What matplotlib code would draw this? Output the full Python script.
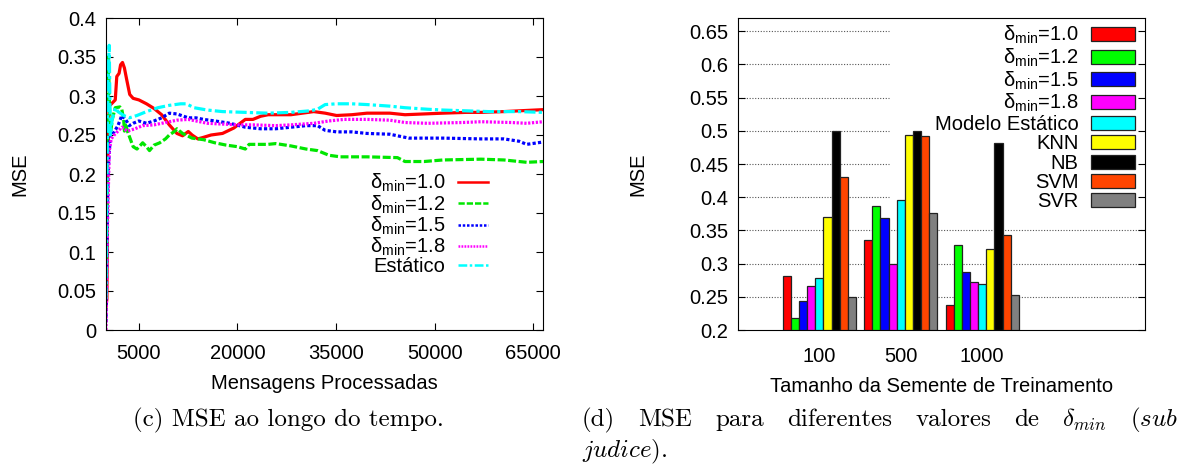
import matplotlib
matplotlib.use("Agg")
import matplotlib.pyplot as plt
from matplotlib.patches import Patch
from matplotlib.lines import Line2D

plt.rcParams['font.family'] = ['Liberation Sans', 'DejaVu Sans']
plt.rcParams['mathtext.fontset'] = 'custom'
plt.rcParams['mathtext.rm'] = 'Liberation Sans'
plt.rcParams['mathtext.it'] = 'Liberation Sans:italic'

# ---------------- left chart data ----------------
red_x = [0, 140, 250, 490, 950, 1410, 1640, 1990, 2220, 2510, 2800, 3150, 3610, 4130, 5000,
         6160, 7310, 8470, 9630, 10790, 11650, 12520, 13100, 13970, 14830, 15990, 17730,
         19460, 21200, 22360, 23520, 24670, 28140, 29880, 31620, 33350, 35090, 37400,
         39720, 43190, 45500, 48400, 51290, 54760, 57070, 60540, 62860, 66500]
red_y = [0.03, 0.04, 0.21, 0.287, 0.291, 0.295, 0.325, 0.329, 0.340, 0.343, 0.336, 0.321, 0.302,
         0.297, 0.295, 0.290, 0.284, 0.276, 0.263, 0.252, 0.249, 0.2545, 0.250, 0.245, 0.247,
         0.250, 0.252, 0.259, 0.270, 0.270, 0.274, 0.276, 0.276, 0.278, 0.280, 0.278, 0.275,
         0.276, 0.278, 0.278, 0.276, 0.277, 0.278, 0.279, 0.279, 0.280, 0.281, 0.2825]

green_x = [0, 150, 255, 370, 490, 660, 950, 1410, 2110, 2400, 2690, 2800, 2975, 3260, 4130,
           4710, 5580, 6160, 6620, 7310, 8180, 9050, 9630, 10500, 10790, 11650, 13100, 14840,
           16570, 18310, 20040, 21200, 21780, 24670, 25830, 28140, 30460, 32190, 33930, 35670,
           39720, 44350, 45500, 48400, 51290, 57070, 60550, 64020, 66500]
green_y = [0.05, 0.12, 0.25, 0.35, 0.30, 0.25, 0.27, 0.285, 0.286, 0.283, 0.270, 0.255, 0.265,
           0.255, 0.235, 0.232, 0.240, 0.235, 0.230, 0.237, 0.240, 0.245, 0.250, 0.255, 0.258,
           0.252, 0.246, 0.244, 0.240, 0.237, 0.235, 0.232, 0.238, 0.238, 0.239, 0.236, 0.232,
           0.230, 0.224, 0.222, 0.222, 0.221, 0.216, 0.216, 0.218, 0.219, 0.218, 0.215, 0.216]

blue_x = [0, 150, 300, 660, 950, 1820, 2400, 2980, 3550, 4130, 5000, 6160, 7310, 8470, 9630,
          10790, 12520, 13680, 14840, 16570, 18890, 21200, 23520, 25830, 28140, 30460, 32190,
          33350, 35090, 37400, 39720, 43190, 44920, 46080, 51290, 57070, 60550, 62860, 64020,
          66500]
blue_y = [0.01, 0.12, 0.20, 0.25, 0.25, 0.262, 0.275, 0.270, 0.262, 0.265, 0.268, 0.265,
          0.268, 0.272, 0.278, 0.277, 0.272, 0.272, 0.270, 0.268, 0.265, 0.260, 0.258, 0.258,
          0.260, 0.262, 0.262, 0.256, 0.254, 0.254, 0.252, 0.251, 0.248, 0.246, 0.246, 0.245,
          0.245, 0.242, 0.238, 0.241]

magenta_x = [0, 150, 300, 500, 800, 1240, 1820, 2400, 3260, 4420, 5580, 7310, 9050, 10790,
             12520, 13680, 15420, 17730, 20040, 22360, 25830, 28140, 31620, 33930, 36240,
             39720, 43190, 45500, 48970, 54180, 57070, 61700, 64020, 66500]
magenta_y = [0.0, 0.10, 0.16, 0.23, 0.245, 0.250, 0.255, 0.260, 0.255, 0.258, 0.262, 0.263,
             0.266, 0.269, 0.270, 0.268, 0.265, 0.264, 0.263, 0.263, 0.262, 0.263, 0.265,
             0.268, 0.270, 0.270, 0.269, 0.266, 0.265, 0.266, 0.267, 0.266, 0.265, 0.267]

cyan_x = [0, 150, 300, 490, 660, 950, 1410, 1820, 2690, 3550, 4710, 6160, 7890, 9630, 11370,
          12230, 13390, 15420, 17730, 21200, 24670, 28140, 31040, 32190, 33350, 35090, 37400,
          39720, 43190, 45500, 48970, 51290, 54760, 58230, 62860, 66500]
cyan_y = [0.04, 0.20, 0.32, 0.365, 0.25, 0.27, 0.285, 0.280, 0.275, 0.272, 0.275, 0.280,
          0.285, 0.288, 0.290, 0.290, 0.285, 0.282, 0.280, 0.279, 0.278, 0.279, 0.281, 0.283,
          0.289, 0.290, 0.290, 0.289, 0.287, 0.285, 0.283, 0.282, 0.281, 0.280, 0.280, 0.279]

line_labels = [r'δ$_{\mathrm{min}}$=1.0', r'δ$_{\mathrm{min}}$=1.2', r'δ$_{\mathrm{min}}$=1.5',
               r'δ$_{\mathrm{min}}$=1.8', 'Estático']
x_ticks_left = [5000, 20000, 35000, 50000, 65000]
y_ticks_left = [0, 0.05, 0.1, 0.15, 0.2, 0.25, 0.3, 0.35, 0.4]

# ---------------- right chart data ----------------
seed_sizes = ['100', '500', '1000']
bar_labels = [r'δ$_{\mathrm{min}}$=1.0', r'δ$_{\mathrm{min}}$=1.2', r'δ$_{\mathrm{min}}$=1.5',
              r'δ$_{\mathrm{min}}$=1.8', 'Modelo Estático', 'KNN', 'NB', 'SVM', 'SVR']
mse_d10 = [0.282, 0.335, 0.238]
mse_d12 = [0.218, 0.387, 0.328]
mse_d15 = [0.243, 0.369, 0.287]
mse_d18 = [0.267, 0.300, 0.272]
mse_static = [0.279, 0.396, 0.270]
mse_knn = [0.370, 0.493, 0.322]
mse_nb = [0.500, 0.500, 0.481]
mse_svm = [0.430, 0.492, 0.343]
mse_svr = [0.250, 0.377, 0.252]
y_ticks_right = [0.2, 0.25, 0.3, 0.35, 0.4, 0.45, 0.5, 0.55, 0.6, 0.65]

W, H = 1182, 472
fig = plt.figure(figsize=(W / 100, H / 100), dpi=100)
fs = 14.5

# ---------------- left chart ----------------
ax1 = fig.add_axes([106 / W, (H - 330) / H, (543 - 106) / W, 312 / H])
series = [(red_x, red_y, '#ff0000', '-'),
          (green_x, green_y, '#00e600', (0, (2.5, 0.8))),
          (blue_x, blue_y, '#0000ff', (0, (1.0, 0.7))),
          (magenta_x, magenta_y, '#ff00ff', (0, (0.7, 0.5))),
          (cyan_x, cyan_y, '#00ffff', (0, (3.5, 1.0, 1.0, 1.0)))]
handles = []
for (xs, ys, c, ls), lab in zip(series, line_labels):
    ax1.plot(xs, ys, color=c, linestyle=ls, linewidth=2.3)
    handles.append(Line2D([], [], color=c, linestyle=ls, linewidth=1.8))
ax1.set_xlim(0, 66500)
ax1.set_ylim(0, 0.4)
ax1.set_xticks(x_ticks_left)
ax1.set_yticks(y_ticks_left)
ax1.set_yticklabels([f'{v:g}' for v in y_ticks_left])
ax1.tick_params(direction='in', top=True, right=True, labelsize=fs, length=5, width=0.8, pad=7)
ax1.tick_params(axis='x', pad=10)
ax1.set_xlabel('Mensagens Processadas', fontsize=fs, labelpad=8)
ax1.set_ylabel('MSE', fontsize=fs, labelpad=20)
leg1 = ax1.legend(handles, line_labels, loc='upper right',
                  bbox_to_anchor=((488 - 106) / 437, (330 - 172) / 312),
                  frameon=False, fontsize=fs, markerfirst=False, handlelength=1.5,
                  handletextpad=0.6, labelspacing=-0.05, borderpad=0.0, borderaxespad=0.0)
for t in leg1.get_texts():
    t.set_ha('right')
leg1._legend_box.align = 'right'

# ---------------- right chart ----------------
ax2 = fig.add_axes([738 / W, (H - 330) / H, (1145 - 738) / W, 312 / H])
colors = ['#ff0000', '#00ff00', '#0000ff', '#ff00ff', '#00ffff', '#ffff00', '#000000',
          '#ff4500', '#808080']
all_vals = [mse_d10, mse_d12, mse_d15, mse_d18, mse_static, mse_knn, mse_nb, mse_svm, mse_svr]
bw = 0.1
base = 0.2
for gy in y_ticks_right[1:]:
    x_end = 0.85 if gy >= 0.4 else 4
    ax2.hlines(gy, -1, x_end, colors='#555555', linestyles=(0, (1, 1.5)), linewidth=0.8,
               zorder=1)
patches = []
for i, (vals, c) in enumerate(zip(all_vals, colors)):
    xs = [g - 0.4 + i * bw for g in range(len(seed_sizes))]
    ax2.bar(xs, [v - base for v in vals], width=bw, bottom=base, color=c,
            edgecolor='#222222', linewidth=0.9, zorder=3)
    patches.append(Patch(facecolor=c, edgecolor='#222222', linewidth=0.9))
ax2.set_xlim(-1, 4)
ax2.set_ylim(0.2, 0.67)
ax2.set_xticks(range(len(seed_sizes)))
ax2.set_xticklabels(seed_sizes)
ax2.set_yticks(y_ticks_right)
ax2.set_yticklabels([f'{v:g}' for v in y_ticks_right])
ax2.tick_params(axis='y', direction='in', right=True, labelsize=fs, length=5, width=0.8, pad=7)
ax2.tick_params(axis='x', length=0, labelsize=fs, pad=12)
ax2.set_xlabel('Tamanho da Semente de Treinamento', fontsize=fs, labelpad=8)
ax2.set_ylabel('MSE', fontsize=fs, labelpad=30)
leg2 = ax2.legend(patches, bar_labels, loc='upper right',
                  bbox_to_anchor=((1135 - 738) / 407, (330 - 24) / 312),
                  frameon=False, fontsize=fs, markerfirst=False, handlelength=2.2,
                  handleheight=0.7, handletextpad=0.6, labelspacing=0.02, borderpad=0.0,
                  borderaxespad=0.0)
for t in leg2.get_texts():
    t.set_ha('right')
leg2._legend_box.align = 'right'

# ---------------- captions ----------------
cap_fs = 18
fig.text(288 / W, 1 - 420 / H, '(c) MSE ao longo do tempo.', ha='center', va='center',
         family='cmr10', fontsize=cap_fs)
line1_words = ['(d)', 'MSE', 'para', 'diferentes', 'valores', 'de', r'$\delta_{min}$',
               r'($\mathit{sub}$']
renderer = fig.canvas.get_renderer()
word_objs = []
for wtxt in line1_words:
    t = fig.text(0, 1 - 420 / H, wtxt, ha='left', va='center', family='cmr10',
                 fontsize=cap_fs, math_fontfamily='cm')
    word_objs.append(t)
widths = [t.get_window_extent(renderer).width for t in word_objs]
x_left, x_right = 582, 1178
gap = (x_right - x_left - sum(widths)) / (len(word_objs) - 1)
cur = x_left
for t, wd in zip(word_objs, widths):
    t.set_x(cur / W)
    cur += wd + gap
fig.text(582 / W, 1 - 452 / H, r'$\mathit{judice}$).', ha='left', va='center', family='cmr10',
         fontsize=cap_fs, math_fontfamily='cm')

fig.savefig('out.png', dpi=100)
